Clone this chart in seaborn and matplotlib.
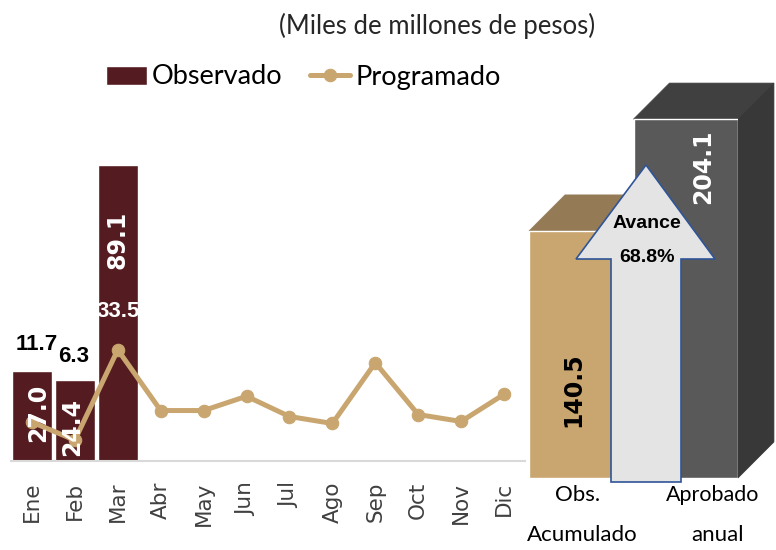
import numpy as np
import pandas as pd
import matplotlib
matplotlib.use('Agg')
import matplotlib.pyplot as plt
from matplotlib.patches import Polygon
import seaborn as sns

meses = ['Ene', 'Feb', 'Mar', 'Abr', 'May', 'Jun', 'Jul', 'Ago', 'Sep', 'Oct', 'Nov', 'Dic']
observado = [27.0, 24.4, 89.1]
programado = [11.7, 6.3, 33.5, 15.2, 15.2, 19.5, 13.4, 11.3, 29.6, 14.0, 11.9, 20.1]
anual_labels = ['Obs.\nAcumulado', 'Aprobado\nanual']
anual_values = [140.5, 204.1]

VINO = '#541C20'
TAN = '#C9A66F'
W, H = 776, 550


def px_axes(fig, x0, x1, ytop, ybottom):
    return fig.add_axes([x0 / W, 1 - ybottom / H, (x1 - x0) / W, (ybottom - ytop) / H])


def fig_xy(x, y):
    return x / W, 1 - y / H


sns.set_theme(style='white')
plt.rcParams['font.family'] = ['Lato', 'DejaVu Sans']
plt.rcParams['text.color'] = 'black'
fig = plt.figure(figsize=(W / 100, H / 100), dpi=100)

# panel mensual
ax = px_axes(fig, 10.5, 525.5, 129, 461)
df_obs = pd.DataFrame({'mes': meses[:len(observado)], 'valor': observado})
sns.barplot(data=df_obs, x='mes', y='valor', order=meses, color=VINO, saturation=1,
            width=0.93, ax=ax, label='Observado')
sns.lineplot(x=np.arange(len(meses)), y=programado, color=TAN, lw=3.6, marker='o', ms=9,
             mec=TAN, ax=ax, label='Programado')
ax.set_xlim(-0.5, 11.5)
ax.set_ylim(0, 100)
ax.set_xlabel('')
ax.set_ylabel('')
ax.set_yticks([])
ax.set_xticks(np.arange(len(meses)))
ax.set_xticklabels(meses, rotation=90)
ax.tick_params(axis='x', length=0, pad=15)
for t in ax.get_xticklabels():
    t.set_family('DejaVu Sans')
    t.set_fontsize(15.5)
    t.set_color('#404040')
sns.despine(ax=ax, left=True)
ax.spines['bottom'].set_color('#D9D9D9')
ax.spines['bottom'].set_linewidth(1.5)

bold_wide = dict(rotation=90, ha='center', va='center', fontsize=17, fontweight='bold',
                 family='DejaVu Sans')
bold_narrow = dict(ha='center', va='center', fontsize=16, fontweight='bold',
                   family='Liberation Sans')
ax.text(0.14, 14.5, f'{observado[0]:.1f}', color='white', **bold_wide)
ax.text(0.93, 10.2, f'{observado[1]:.1f}', color='white', **bold_wide)
ax.text(2, 66.6, f'{observado[2]:.1f}', color='white', **bold_wide)
ax.text(0.12, 35.2, f'{programado[0]:.1f}', color='black', **bold_narrow)
ax.text(0.98, 31.6, f'{programado[1]:.1f}', color='black', **bold_narrow)
ax.text(2, 44.9, f'{programado[2]:.1f}', color='white', **bold_narrow)

handles, labels = ax.get_legend_handles_labels()
orden = [labels.index('Observado'), labels.index('Programado')]
ax.legend([handles[i] for i in orden], [labels[i] for i in orden], loc='center left',
          bbox_to_anchor=fig_xy(106, 77), bbox_transform=fig.transFigure, ncol=2, frameon=False,
          handlelength=1.5, handletextpad=0.2, columnspacing=1.0, borderpad=0, borderaxespad=0,
          prop={'family': 'Lato', 'size': 19.5})

# panel anual
ax2 = px_axes(fig, 529, 738, 56, 478)
sns.barplot(x=anual_labels, y=anual_values, hue=anual_labels, palette=[TAN, '#595959'],
            saturation=1, width=1, legend=False, ax=ax2, zorder=3)
ax2.set_xlim(-0.5, 1.5)
ax2.set_ylim(0, 240)
ax2.axis('off')

# caras 3D de cada barra
dx, dy = 0.344, 20.5
caras = [('#957B55', '#8A7149'), ('#404040', '#383838')]
for i, v in enumerate(anual_values):
    l, r = i - 0.5, i + 0.5
    top = [(l, v), (l + dx, v + dy), (r + dx, v + dy), (r, v)]
    side = [(r, v), (r + dx, v + dy), (r + dx, dy), (r, 0)]
    z = 1 + 2 * i
    ax2.add_patch(Polygon(top, fc=caras[i][0], ec=caras[i][0], lw=0.5, clip_on=False, zorder=z + 1))
    ax2.add_patch(Polygon(side, fc=caras[i][1], ec=caras[i][1], lw=0.5, clip_on=False, zorder=z + 1))
ax2.patches[0].set_zorder(2.5)
ax2.patches[1].set_zorder(4.5)

# flecha de avance
flecha = [(646, 165), (715, 259), (681, 259), (681, 482), (611, 482), (611, 259), (576, 259)]
fig.add_artist(Polygon([fig_xy(*p) for p in flecha], closed=True, fc='#E4E4E4', ec='#2F5597',
                       lw=1.2, transform=fig.transFigure, zorder=10))

fig.text(*fig_xy(647, 223), 'Avance', ha='center', va='center', fontsize=14, fontweight='bold',
         family='Liberation Sans', zorder=11)
fig.text(*fig_xy(647, 258), '68.8%', ha='center', va='center', fontsize=14, fontweight='bold',
         family='Liberation Sans', zorder=11)
fig.text(*fig_xy(573, 390), f'{anual_values[0]:.1f}', color='black', zorder=11, **bold_wide)
fig.text(*fig_xy(703, 167), f'{anual_values[1]:.1f}', color='white', zorder=11, **bold_wide)

fig.text(*fig_xy(578, 495), 'Obs.', ha='center', va='center', fontsize=16)
fig.text(*fig_xy(582, 535), 'Acumulado', ha='center', va='center', fontsize=16)
fig.text(*fig_xy(713, 495), 'Aprobado', ha='center', va='center', fontsize=15.5)
fig.text(*fig_xy(717, 535), 'anual', ha='center', va='center', fontsize=16)

fig.text(*fig_xy(437, 26), '(Miles de millones de pesos)', ha='center', va='center',
         fontsize=18.5, color='#262626')

fig.savefig('out.png', dpi=100)
